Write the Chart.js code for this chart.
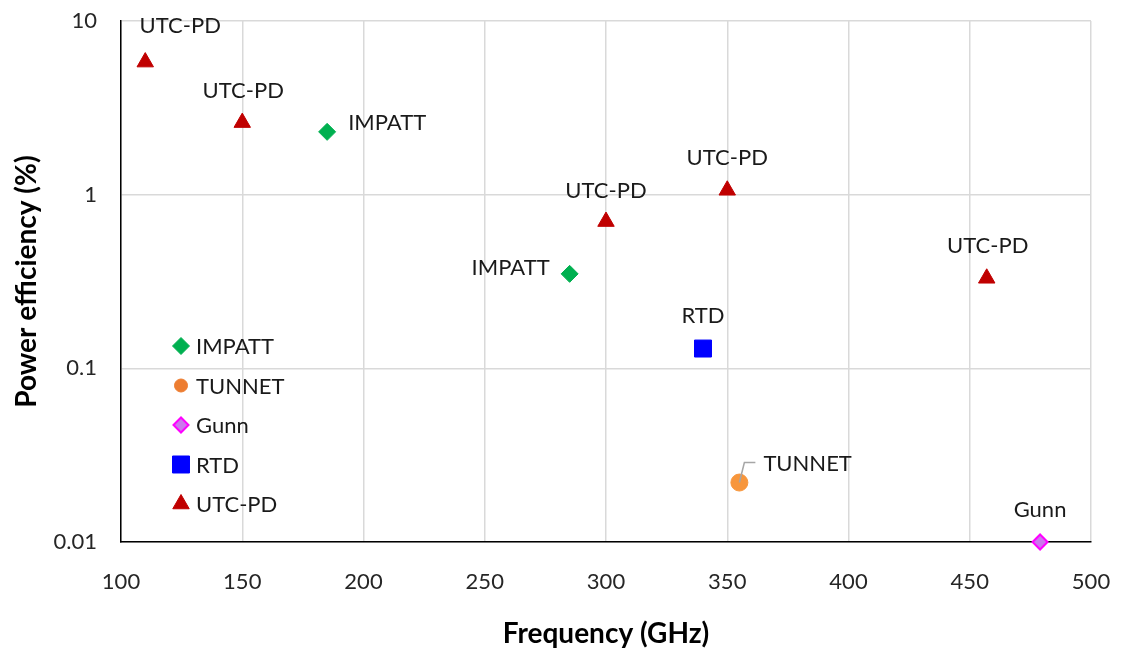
<!DOCTYPE html>
<html>
<head>
<meta charset="utf-8">
<title>Power efficiency vs frequency</title>
<script src="https://cdn.jsdelivr.net/npm/chart.js@4.4.1/dist/chart.umd.min.js"></script>
<style>
  html, body { margin: 0; padding: 0; background: #ffffff; }
  #wrap { width: 1123px; height: 651px; position: relative; }
</style>
</head>
<body>
<div id="wrap"><canvas id="chart"></canvas></div>
<script>
// ---- data: frequency (GHz) and power efficiency (%) per source type ----
const impattFreq = [185, 285];
const impattEff  = [2.3, 0.35];

const tunnetFreq = [355];
const tunnetEff  = [0.022];

const gunnFreq = [479];
const gunnEff  = [0.01];

const rtdFreq = [340];
const rtdEff  = [0.13];

const utcFreq = [110, 150, 300, 350, 457];
const utcEff  = [5.8, 2.6, 0.7, 1.06, 0.33];

const xTickValues = [100, 150, 200, 250, 300, 350, 400, 450, 500];
const yTickValues = [0.01, 0.1, 1, 10];
const yTickLabels = ['0.01', '0.1', '1', '10'];

const seriesNames = ['IMPATT', 'TUNNET', 'Gunn', 'RTD', 'UTC-PD'];

const FONT = 'Lato, "Open Sans", "DejaVu Sans", sans-serif';
const TEXT = '#1a1a1a';
const TICK_TEXT = '#262626';
const TITLE_TEXT = '#000000';

function pairs(xs, ys) {
  return xs.map((x, i) => ({ x: x, y: ys[i] }));
}

// label offsets relative to each marker (dx, dy in px, text alignment)
const labelPlacement = {
  'IMPATT': [{ dx: 21, dy: -9, align: 'left' }, { dx: -20, dy: -6, align: 'right' }],
  'TUNNET': [{ dx: 24, dy: -19, align: 'left', leader: true }],
  'Gunn':   [{ dx: 0, dy: -32, align: 'center' }],
  'RTD':    [{ dx: 0, dy: -33, align: 'center' }],
  'UTC-PD': [
    { dx: 35, dy: -36, align: 'center' },
    { dx: 1, dy: -32, align: 'center' },
    { dx: 0, dy: -31, align: 'center' },
    { dx: 0, dy: -32, align: 'center' },
    { dx: 1, dy: -32, align: 'center' }
  ]
};

// draws the per-point text labels (and the small leader line for TUNNET)
const pointLabels = {
  id: 'pointLabels',
  afterDatasetsDraw(chart) {
    const ctx = chart.ctx;
    ctx.save();
    ctx.font = '22px ' + FONT;
    ctx.fillStyle = TEXT;
    ctx.textBaseline = 'middle';
    chart.data.datasets.forEach((ds, di) => {
      const meta = chart.getDatasetMeta(di);
      const place = labelPlacement[ds.label] || [];
      meta.data.forEach((pt, i) => {
        const p = place[i];
        if (!p) return;
        const x = pt.x + p.dx, y = pt.y + p.dy;
        if (p.leader) {
          ctx.save();
          ctx.strokeStyle = '#a6a6a6';
          ctx.lineWidth = 1.5;
          ctx.beginPath();
          ctx.moveTo(pt.x, pt.y);
          ctx.lineTo(pt.x + 5, pt.y - 20);
          ctx.lineTo(pt.x + 16, pt.y - 20);
          ctx.stroke();
          ctx.restore();
        }
        ctx.textAlign = p.align;
        ctx.fillText(ds.label, x, y);
      });
    });
    ctx.restore();
  }
};

// legend drawn inside the plot area, lower left
const innerLegend = {
  id: 'innerLegend',
  afterDraw(chart, args, opts) {
    const ctx = chart.ctx;
    const area = chart.chartArea;
    const x0 = area.left + opts.offsetX;
    let y = area.top + opts.offsetY;
    ctx.save();
    ctx.font = '22px ' + FONT;
    ctx.textBaseline = 'middle';
    ctx.textAlign = 'left';
    chart.data.datasets.forEach((ds) => {
      ctx.fillStyle = ds.legendColor || ds.backgroundColor;
      ctx.strokeStyle = ds.legendColor || ds.borderColor;
      ctx.lineWidth = ds.borderWidth;
      Chart.helpers.drawPoint(ctx, {
        pointStyle: ds.pointStyle,
        radius: ds.legendRadius,
        rotation: 0,
        borderWidth: ds.borderWidth
      }, x0, y);
      ctx.fillStyle = TEXT;
      ctx.fillText(ds.label, x0 + 15, y + 1);
      y += opts.spacing;
    });
    ctx.restore();
  }
};

const data = {
  datasets: [
    {
      label: seriesNames[0],
      data: pairs(impattFreq, impattEff),
      pointStyle: 'rectRot',
      pointRadius: 8.5,
      legendRadius: 8.5,
      backgroundColor: '#00b050',
      borderColor: '#00b050',
      borderWidth: 1
    },
    {
      label: seriesNames[1],
      data: pairs(tunnetFreq, tunnetEff),
      pointStyle: 'circle',
      pointRadius: 8.5,
      legendRadius: 6.5,
      legendColor: '#ed7d31',
      backgroundColor: '#f7963c',
      borderColor: '#f7963c',
      borderWidth: 1
    },
    {
      label: seriesNames[2],
      data: pairs(gunnFreq, gunnEff),
      pointStyle: 'rectRot',
      pointRadius: 7.5,
      legendRadius: 7.5,
      backgroundColor: '#cc77ee',
      borderColor: '#ff00ff',
      borderWidth: 2
    },
    {
      label: seriesNames[3],
      data: pairs(rtdFreq, rtdEff),
      pointStyle: 'rect',
      pointRadius: 12,
      legendRadius: 12,
      backgroundColor: '#0000ff',
      borderColor: '#0000ff',
      borderWidth: 1
    },
    {
      label: seriesNames[4],
      data: pairs(utcFreq, utcEff),
      pointStyle: 'triangle',
      pointRadius: 9.5,
      legendRadius: 9.5,
      backgroundColor: '#c00000',
      borderColor: '#c00000',
      borderWidth: 1
    }
  ]
};

const chart = new Chart(document.getElementById('chart'), {
  type: 'scatter',
  data: data,
  plugins: [pointLabels, innerLegend],
  options: {
    responsive: true,
    maintainAspectRatio: false,
    animation: false,
    clip: false,
    layout: { padding: { top: 21, right: 32, left: 0, bottom: 0 } },
    plugins: {
      legend: { display: false },
      tooltip: { enabled: false },
      innerLegend: { offsetX: 60, offsetY: 325, spacing: 39.5 }
    },
    elements: { point: { hoverRadius: 9 } },
    scales: {
      x: {
        type: 'linear',
        min: 100,
        max: 500,
        afterFit(scale) {
          scale.height = 109;
          scale.paddingLeft = 0;
          scale.paddingRight = 0;
        },
        afterBuildTicks(scale) { scale.ticks = xTickValues.map(v => ({ value: v })); },
        border: { display: true, color: '#000000', width: 1.5 },
        grid: { color: '#d9d9d9', lineWidth: 1.5, drawTicks: false },
        ticks: {
          padding: 27,
          color: TICK_TEXT,
          font: { family: FONT, size: 22 },
          maxRotation: 0,
          callback: (v) => String(v)
        },
        title: {
          display: true,
          text: 'Frequency (GHz)',
          color: TITLE_TEXT,
          font: { family: FONT, size: 28, weight: 'bold' },
          padding: { top: 0, bottom: 0 }
        }
      },
      y: {
        type: 'logarithmic',
        min: 0.01,
        max: 10,
        afterFit(scale) {
          scale.width = 121;
          scale.paddingTop = 0;
          scale.paddingBottom = 0;
        },
        afterBuildTicks(scale) { scale.ticks = yTickValues.map(v => ({ value: v })); },
        border: { display: true, color: '#000000', width: 1.5 },
        grid: { color: '#d9d9d9', lineWidth: 1.5, drawTicks: false },
        ticks: {
          padding: 24,
          color: TICK_TEXT,
          font: { family: FONT, size: 22 },
          callback: (v) => yTickLabels[yTickValues.indexOf(v)] ?? ''
        },
        title: {
          display: true,
          text: 'Power efficiency (%)',
          color: TITLE_TEXT,
          font: { family: FONT, size: 28, weight: 'bold' },
          padding: { top: 10, bottom: 0 }
        }
      }
    }
  }
});
</script>
</body>
</html>
